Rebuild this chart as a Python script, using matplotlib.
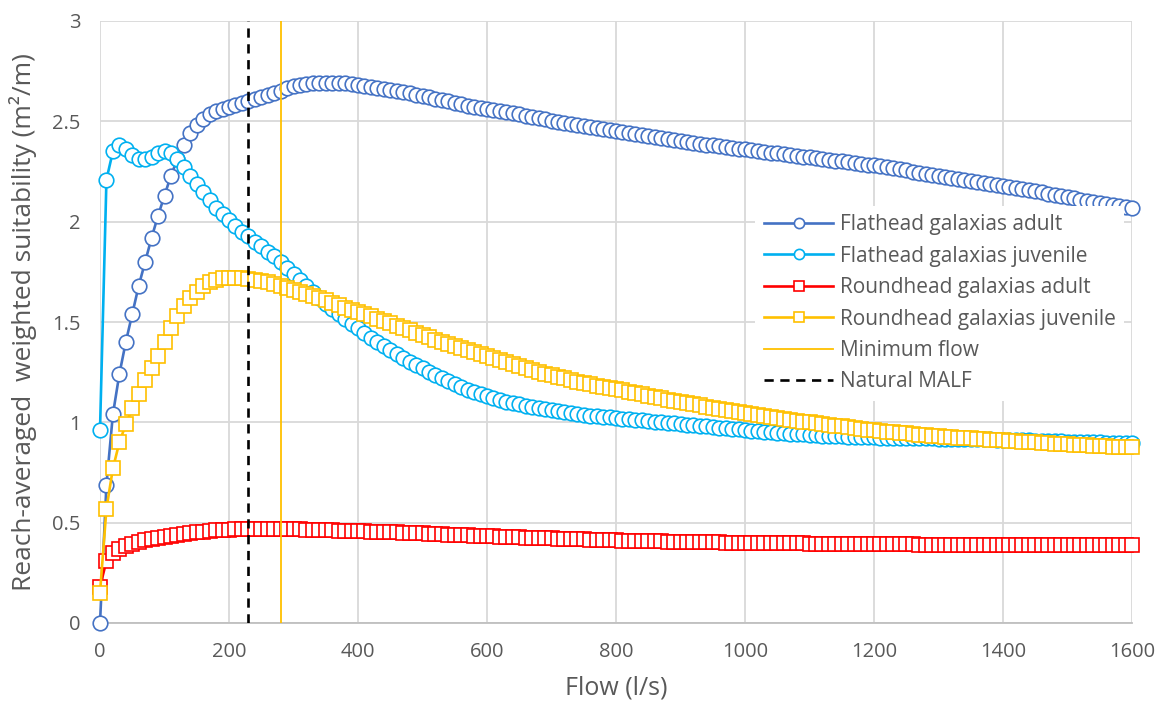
import matplotlib.pyplot as plt
import numpy as np

plt.rcParams['font.family'] = ['Open Sans', 'DejaVu Sans']

# flow, l/s (every 10 from 0 to 1600)
flow = list(range(0, 1610, 10))

# Flathead galaxias adult
fh_adult = [
    0.00, 0.69, 1.04, 1.24, 1.40, 1.54, 1.68, 1.80, 1.92, 2.03,
    2.13, 2.23, 2.31, 2.38, 2.44, 2.48, 2.51, 2.535, 2.55, 2.56,
    2.57, 2.58, 2.59, 2.60, 2.61, 2.62, 2.63, 2.64, 2.65, 2.665,
    2.675, 2.68, 2.685, 2.69, 2.69, 2.69, 2.69, 2.69, 2.69, 2.685,
    2.68, 2.675, 2.67, 2.665, 2.66, 2.655, 2.65, 2.645, 2.64, 2.63,
    2.625, 2.62, 2.61, 2.605, 2.60, 2.59, 2.585, 2.575, 2.57, 2.565,
    2.56, 2.555, 2.55, 2.545, 2.54, 2.535, 2.525, 2.52, 2.515, 2.51,
    2.50, 2.495, 2.49, 2.485, 2.48, 2.475, 2.47, 2.465, 2.46, 2.455,
    2.45, 2.445, 2.44, 2.435, 2.43, 2.425, 2.42, 2.415, 2.41, 2.405,
    2.40, 2.396, 2.392, 2.388, 2.384, 2.38, 2.376, 2.372, 2.368, 2.364,
    2.36, 2.356, 2.352, 2.348, 2.344, 2.34, 2.336, 2.332, 2.328, 2.324,
    2.32, 2.316, 2.312, 2.308, 2.304, 2.30, 2.296, 2.292, 2.288, 2.284,
    2.28, 2.275, 2.27, 2.265, 2.26, 2.255, 2.25, 2.245, 2.24, 2.235,
    2.23, 2.225, 2.22, 2.215, 2.21, 2.205, 2.20, 2.195, 2.19, 2.185,
    2.18, 2.175, 2.17, 2.164, 2.158, 2.152, 2.146, 2.14, 2.134, 2.128,
    2.122, 2.116, 2.11, 2.104, 2.098, 2.093, 2.088, 2.083, 2.079, 2.075,
    2.07]

# Flathead galaxias juvenile
fh_juv = [
    0.96, 2.21, 2.35, 2.38, 2.36, 2.33, 2.31, 2.31, 2.32, 2.34,
    2.35, 2.34, 2.31, 2.27, 2.23, 2.19, 2.15, 2.11, 2.07, 2.04,
    2.01, 1.98, 1.95, 1.93, 1.90, 1.88, 1.85, 1.83, 1.80, 1.77,
    1.74, 1.71, 1.68, 1.65, 1.62, 1.59, 1.565, 1.54, 1.515, 1.49,
    1.47, 1.445, 1.42, 1.40, 1.38, 1.36, 1.34, 1.32, 1.30, 1.285,
    1.27, 1.25, 1.235, 1.22, 1.205, 1.19, 1.175, 1.16, 1.15, 1.14,
    1.13, 1.12, 1.11, 1.10, 1.095, 1.09, 1.08, 1.075, 1.07, 1.065,
    1.06, 1.055, 1.05, 1.045, 1.04, 1.037, 1.034, 1.031, 1.028, 1.025,
    1.022, 1.019, 1.016, 1.013, 1.01, 1.007, 1.004, 1.001, 0.998, 0.995,
    0.992, 0.989, 0.986, 0.983, 0.98, 0.977, 0.974, 0.971, 0.968, 0.965,
    0.962, 0.959, 0.956, 0.953, 0.95, 0.948, 0.946, 0.944, 0.942, 0.94,
    0.938, 0.936, 0.934, 0.932, 0.931, 0.93, 0.929, 0.928, 0.927, 0.926,
    0.925, 0.924, 0.923, 0.922, 0.922, 0.921, 0.921, 0.92, 0.92, 0.92,
    0.919, 0.918, 0.918, 0.917, 0.917, 0.916, 0.916, 0.915, 0.915, 0.914,
    0.914, 0.913, 0.912, 0.911, 0.91, 0.909, 0.908, 0.907, 0.906, 0.905,
    0.904, 0.903, 0.902, 0.901, 0.90, 0.90, 0.899, 0.898, 0.897, 0.896,
    0.895]

# Roundhead galaxias adult
rh_adult = [
    0.18, 0.31, 0.35, 0.37, 0.385, 0.395, 0.405, 0.412, 0.418, 0.424,
    0.43, 0.435, 0.44, 0.444, 0.448, 0.452, 0.455, 0.458, 0.461, 0.463,
    0.465, 0.467, 0.468, 0.469, 0.47, 0.47, 0.47, 0.47, 0.469, 0.468,
    0.467, 0.466, 0.465, 0.464, 0.463, 0.462, 0.461, 0.46, 0.459, 0.458,
    0.457, 0.456, 0.455, 0.454, 0.453, 0.452, 0.451, 0.45, 0.449, 0.448,
    0.447, 0.446, 0.444, 0.443, 0.441, 0.44, 0.438, 0.437, 0.435, 0.434,
    0.433, 0.432, 0.43, 0.429, 0.428, 0.427, 0.426, 0.425, 0.424, 0.423,
    0.422, 0.421, 0.42, 0.419, 0.418, 0.417, 0.416, 0.415, 0.414, 0.413,
    0.412, 0.411, 0.41, 0.41, 0.409, 0.408, 0.408, 0.407, 0.406, 0.406,
    0.405, 0.404, 0.404, 0.403, 0.403, 0.402, 0.402, 0.401, 0.401, 0.40,
    0.40, 0.40, 0.399, 0.399, 0.398, 0.398, 0.398, 0.397, 0.397, 0.397,
    0.396, 0.396, 0.396, 0.395, 0.395, 0.395, 0.394, 0.394, 0.394, 0.393,
    0.393, 0.393, 0.393, 0.392, 0.392, 0.392, 0.392, 0.391, 0.391, 0.391,
    0.391, 0.391, 0.39, 0.39, 0.39, 0.39, 0.39, 0.39, 0.389, 0.389,
    0.389, 0.389, 0.389, 0.389, 0.389, 0.389, 0.389, 0.389, 0.389, 0.389,
    0.389, 0.388, 0.388, 0.388, 0.388, 0.388, 0.388, 0.388, 0.388, 0.388,
    0.388]

# Roundhead galaxias juvenile
rh_juv = [
    0.15, 0.57, 0.77, 0.90, 0.99, 1.07, 1.14, 1.21, 1.27, 1.33,
    1.40, 1.47, 1.53, 1.58, 1.62, 1.65, 1.68, 1.70, 1.71, 1.72,
    1.72, 1.72, 1.72, 1.715, 1.71, 1.705, 1.70, 1.69, 1.68, 1.67,
    1.66, 1.65, 1.64, 1.63, 1.62, 1.61, 1.595, 1.585, 1.57, 1.56,
    1.55, 1.54, 1.53, 1.515, 1.505, 1.495, 1.48, 1.47, 1.46, 1.445,
    1.435, 1.425, 1.41, 1.40, 1.39, 1.38, 1.37, 1.36, 1.35, 1.34,
    1.33, 1.32, 1.31, 1.30, 1.29, 1.28, 1.27, 1.26, 1.25, 1.24,
    1.235, 1.225, 1.22, 1.21, 1.20, 1.195, 1.19, 1.18, 1.175, 1.17,
    1.165, 1.16, 1.15, 1.145, 1.14, 1.13, 1.125, 1.12, 1.11, 1.105,
    1.10, 1.095, 1.09, 1.085, 1.078, 1.072, 1.066, 1.06, 1.055, 1.05,
    1.045, 1.04, 1.035, 1.031, 1.026, 1.022, 1.017, 1.013, 1.008, 1.004,
    1.0, 0.996, 0.992, 0.988, 0.984, 0.98, 0.976, 0.972, 0.968, 0.964,
    0.96, 0.957, 0.954, 0.951, 0.948, 0.945, 0.942, 0.939, 0.936, 0.933,
    0.93, 0.928, 0.926, 0.924, 0.922, 0.92, 0.918, 0.916, 0.914, 0.912,
    0.91, 0.908, 0.906, 0.904, 0.902, 0.90, 0.898, 0.896, 0.894, 0.892,
    0.89, 0.888, 0.887, 0.885, 0.884, 0.882, 0.881, 0.879, 0.878, 0.876,
    0.875]

min_flow = 280
natural_malf = 230

fig = plt.figure(figsize=(11.69, 7.09), dpi=100)
ax = fig.add_axes([100 / 1169, 1 - 623 / 709, 1032 / 1169, 602 / 709])

ms = 10.5
mew = 1.2
lw = 1.9
ax.plot(flow, fh_adult, color='#4472C4', lw=lw, marker='o', ms=ms, mew=mew,
        mfc='white', label='Flathead galaxias adult', zorder=3, clip_on=False)
ax.plot(flow, fh_juv, color='#00B0F0', lw=lw, marker='o', ms=ms, mew=mew,
        mfc='white', label='Flathead galaxias juvenile', zorder=3, clip_on=False)
ax.plot(flow, rh_adult, color='#FF0000', lw=lw, marker='s', ms=ms, mew=mew,
        mfc='white', label='Roundhead galaxias adult', zorder=3, clip_on=False)
ax.plot(flow, rh_juv, color='#FFC000', lw=lw, marker='s', ms=ms, mew=mew,
        mfc='white', label='Roundhead galaxias juvenile', zorder=3, clip_on=False)
ax.axvline(min_flow, color='#FFC000', lw=1.3, label='Minimum flow', zorder=4)
ax.axvline(natural_malf, color='black', lw=1.9, ls=(0, (3.5, 2.5)),
           label='Natural MALF', zorder=4)

ax.set_xlim(0, 1600)
ax.set_ylim(0, 3)
ax.set_xticks(range(0, 1601, 200))
ax.set_yticks([0, 0.5, 1, 1.5, 2, 2.5, 3])
ax.set_yticklabels(['0', '0.5', '1', '1.5', '2', '2.5', '3'])
ax.grid(True, color='#D9D9D9', lw=1.3, zorder=0)
ax.set_axisbelow(True)
for s in ['top', 'right', 'left']:
    ax.spines[s].set_visible(False)
ax.spines['bottom'].set_color('#BFBFBF')
ax.spines['bottom'].set_linewidth(1.3)
ax.tick_params(length=0, labelsize=14.5, colors='#595959')
ax.tick_params(axis='x', pad=14)
ax.tick_params(axis='y', pad=14)

ax.set_xlabel('Flow (l/s)', fontsize=18, color='#595959')
ax.set_ylabel('Reach-averaged  weighted suitability (m²/m)', fontsize=19,
              color='#595959')
ax.xaxis.set_label_coords(0.5, -0.088)
ax.yaxis.set_label_coords(-0.061, 0.5)

leg = ax.legend(loc='center left', bbox_to_anchor=(0.635, 0.531), fontsize=15,
                handlelength=3.35, labelspacing=0.5, borderpad=0.4,
                borderaxespad=0, handletextpad=0.3, framealpha=1,
                edgecolor='none', facecolor='white', numpoints=1,
                markerscale=0.7, fancybox=False)
for t in leg.get_texts():
    t.set_color('#595959')

fig.savefig('out.png', dpi=100)
